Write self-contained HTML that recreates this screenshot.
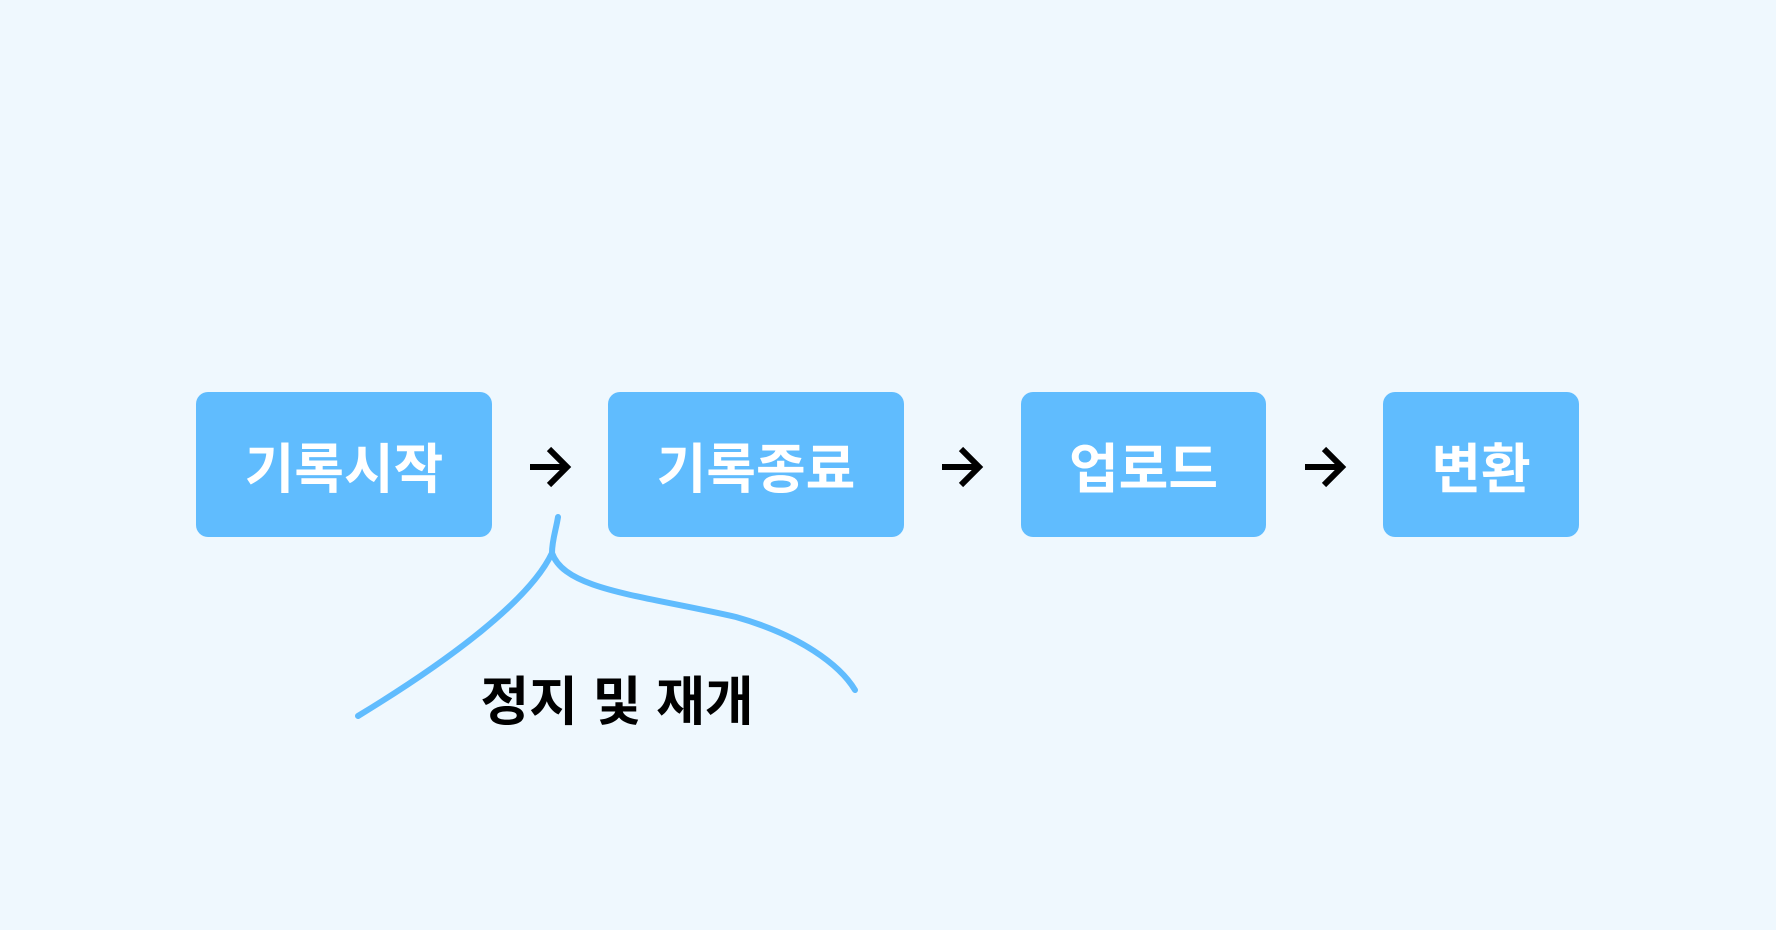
<!DOCTYPE html>
<html><head><meta charset="utf-8"><style>
html,body{margin:0;padding:0}
body{width:1776px;height:930px;background:#eff8fe;position:relative;overflow:hidden;font-family:"Liberation Sans","Noto Sans CJK KR",sans-serif}
.b{position:absolute;top:392px;height:145px;background:#60bcfe;border-radius:12px;color:#fff;font-weight:bold;font-size:54px;display:flex;align-items:center;justify-content:center;letter-spacing:0px}
.lab{position:absolute;left:367px;width:500px;top:660px;text-align:center;font-weight:bold;font-size:53px;color:#000}
</style></head><body>
<div class="b" style="left:196px;width:296px">기록시작</div>
<div class="b" style="left:608px;width:296px">기록종료</div>
<div class="b" style="left:1021px;width:245px">업로드</div>
<div class="b" style="left:1383px;width:196px">변환</div>
<svg width="1776" height="930" style="position:absolute;left:0;top:0">
<g stroke="#000" stroke-width="6" fill="none">
<path d="M530 467H566M549 449L567 467L549 485"/>
<path d="M942 467H978M961 449L979 467L961 485"/>
<path d="M1305 467H1341M1324 449L1342 467L1324 485"/>
</g>
<g stroke="#60bcfe" fill="none" stroke-linecap="round">
<path d="M558 517C556 530 552 540 552 553C530 600 450 660 358 716" stroke-width="6"/>
<path d="M552 553C565 590 640 595 736 617C800 635 840 665 855 690" stroke-width="6"/>
</g>
</svg>
<div class="lab">정지 및 재개</div>
</body></html>
